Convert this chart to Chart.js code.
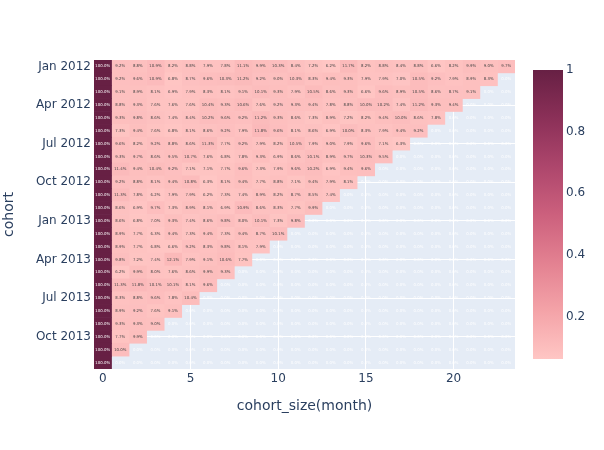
<!DOCTYPE html>
<html>
<head>
<meta charset="utf-8">
<script src="https://cdn.jsdelivr.net/npm/chart.js@4.4.0/dist/chart.umd.min.js"></script>
<style>
  html, body { margin: 0; padding: 0; background: #fff; }
</style>
</head>
<body>
<canvas id="chart" width="604" height="450"></canvas>
<script>
// ── Data ──────────────────────────────────────────────────────────────────
const cohorts = [
  'Jan 2012', 'Feb 2012', 'Mar 2012', 'Apr 2012', 'May 2012', 'Jun 2012',
  'Jul 2012', 'Aug 2012', 'Sep 2012', 'Oct 2012', 'Nov 2012', 'Dec 2012',
  'Jan 2013', 'Feb 2013', 'Mar 2013', 'Apr 2013', 'May 2013', 'Jun 2013',
  'Jul 2013', 'Aug 2013', 'Sep 2013', 'Oct 2013', 'Nov 2013', 'Dec 2013',
];

const monthIdx = [0, 1, 2, 3, 4, 5, 6, 7, 8, 9, 10, 11, 12, 13, 14, 15, 16, 17, 18, 19, 20, 21, 22, 23];

const xTicks = [0, 5, 10, 15, 20];

// retention (%) per cohort, column = months since first purchase
const retention = [
  [100, 9.2, 8.8, 10.9, 8.2, 8.8, 7.9, 7.8, 11.1, 9.9, 10.3, 8.4, 7.2, 6.2, 11.7, 8.2, 8.8, 8.4, 8.8, 6.6, 8.2, 9.9, 9.0, 9.7],
  [100, 9.2, 9.6, 10.9, 6.8, 8.7, 9.6, 10.3, 11.2, 9.2, 9.0, 10.3, 8.3, 9.4, 9.3, 7.9, 7.9, 7.0, 10.5, 9.2, 7.9, 8.9, 8.3],
  [100, 9.1, 8.9, 8.1, 6.9, 7.9, 8.3, 8.1, 9.1, 10.1, 9.3, 7.9, 10.5, 8.6, 9.3, 6.6, 9.6, 8.9, 10.5, 8.6, 8.7, 9.1],
  [100, 8.8, 9.3, 7.6, 7.6, 7.6, 10.4, 9.3, 10.6, 7.6, 9.2, 9.3, 9.4, 7.8, 8.8, 10.0, 10.2, 7.4, 11.2, 9.3, 9.4],
  [100, 9.3, 9.8, 8.6, 7.4, 8.4, 10.2, 9.6, 9.2, 11.2, 9.3, 8.6, 7.3, 8.9, 7.2, 8.2, 9.4, 10.0, 8.6, 7.8],
  [100, 7.3, 9.4, 7.6, 6.8, 8.1, 8.6, 9.2, 7.9, 11.8, 9.6, 8.1, 8.6, 6.9, 10.0, 8.3, 7.9, 9.4, 9.2],
  [100, 9.6, 8.2, 9.2, 8.8, 8.6, 11.3, 7.7, 9.2, 7.9, 8.2, 10.5, 7.9, 9.0, 7.9, 9.6, 7.1, 6.3],
  [100, 9.3, 9.7, 8.6, 9.5, 10.7, 7.6, 6.8, 7.8, 9.3, 6.9, 8.6, 10.1, 8.9, 9.7, 10.3, 9.5],
  [100, 11.4, 9.4, 10.4, 9.2, 7.1, 7.1, 7.7, 9.6, 7.3, 7.9, 9.6, 10.2, 6.9, 9.4, 9.6],
  [100, 9.2, 8.8, 8.1, 9.4, 10.8, 6.3, 8.1, 9.4, 7.7, 8.8, 7.1, 9.4, 7.9, 8.1],
  [100, 11.3, 7.8, 6.2, 7.9, 7.9, 6.2, 7.3, 7.4, 8.9, 8.2, 8.7, 8.5, 7.4],
  [100, 8.6, 6.9, 9.7, 7.3, 8.9, 8.1, 6.9, 10.9, 8.6, 8.3, 7.7, 9.9],
  [100, 8.6, 6.8, 7.0, 9.3, 7.4, 8.6, 9.8, 8.0, 10.1, 7.3, 9.8],
  [100, 8.9, 7.7, 6.3, 9.4, 7.3, 9.4, 7.3, 9.4, 8.7, 10.1],
  [100, 8.9, 7.7, 6.8, 6.6, 9.2, 8.3, 9.8, 8.1, 7.9],
  [100, 9.8, 7.2, 7.4, 12.1, 7.9, 9.1, 10.6, 7.7],
  [100, 6.2, 9.9, 8.0, 7.6, 8.6, 9.9, 9.3],
  [100, 11.3, 11.8, 10.1, 10.1, 8.1, 9.6],
  [100, 8.3, 8.8, 9.6, 7.8, 10.4],
  [100, 8.9, 9.2, 7.6, 9.1],
  [100, 9.3, 9.3, 9.0],
  [100, 7.7, 9.9],
  [100, 10.0],
  [100],
];

const cbTicks = [0.2, 0.4, 0.6, 0.8, 1];

// ── Style ─────────────────────────────────────────────────────────────────
const FONT  = "'DejaVu Sans', Verdana, sans-serif";
const INK   = '#2a3f5f';
const PLOT_BG = '#e5ecf6';
const BURG  = ['#ffc6c4', '#f4a3a8', '#e38191', '#cc607d', '#ad466c', '#8b3058', '#672044'];

const allVals = retention.flat().map(v => v / 100);
const zmin = Math.min(...allVals);
const zmax = Math.max(...allVals);

function hexRgb(h) {
  return [1, 3, 5].map(i => parseInt(h.slice(i, i + 2), 16));
}

function burgColor(v) {
  const t = Math.min(1, Math.max(0, (v - zmin) / (zmax - zmin))) * (BURG.length - 1);
  const i = Math.min(BURG.length - 2, Math.floor(t));
  const f = t - i;
  const a = hexRgb(BURG[i]), b = hexRgb(BURG[i + 1]);
  const c = a.map((x, k) => Math.round(x + (b[k] - x) * f));
  return `rgb(${c[0]},${c[1]},${c[2]})`;
}

// one floating-bar dataset per month column
const datasets = monthIdx.map(j => ({
  label: String(j),
  data: retention.map(row => row[j] !== undefined ? [j - 0.5, j + 0.5] : null),
  backgroundColor: retention.map(row => row[j] !== undefined ? burgColor(row[j] / 100) : 'transparent'),
  borderWidth: 0,
  grouped: false,
  barPercentage: 1,
  categoryPercentage: 1,
}));

// ── Plugins ───────────────────────────────────────────────────────────────
const plotBg = {
  id: 'plotBg',
  beforeDraw(chart) {
    const { ctx, chartArea: { left, top, width, height } } = chart;
    ctx.save();
    ctx.fillStyle = PLOT_BG;
    ctx.fillRect(left, top, width, height);
    ctx.restore();
  },
};

const cellText = {
  id: 'cellText',
  afterDatasetsDraw(chart) {
    const { ctx, scales: { x, y } } = chart;
    ctx.save();
    ctx.font = `3.9px ${FONT}`;
    ctx.textAlign = 'center';
    ctx.textBaseline = 'middle';
    retention.forEach((row, i) => {
      const py = y.getPixelForValue(i);
      monthIdx.forEach(j => {
        const v = row[j];
        const px = x.getPixelForValue(j);
        if (v === undefined) {
          ctx.fillStyle = 'rgba(255,255,255,0.95)';
          ctx.fillText('0.0%', px, py);
        } else {
          ctx.fillStyle = v / 100 > 0.5 ? '#ffffff' : '#444444';
          ctx.fillText(v.toFixed(1) + '%', px, py);
        }
      });
    });
    ctx.restore();
  },
};

const colorBar = {
  id: 'colorBar',
  afterDraw(chart) {
    const { ctx, chartArea } = chart;
    const left = chartArea.right + 18, w = 30;
    const top = chartArea.top + 10, bottom = chartArea.bottom - 10;
    const yOf = v => top + (zmax - v) / (zmax - zmin) * (bottom - top);

    ctx.save();
    const g = ctx.createLinearGradient(0, bottom, 0, top);
    BURG.forEach((c, i) => g.addColorStop(i / (BURG.length - 1), c));
    ctx.fillStyle = g;
    ctx.fillRect(left, top, w, bottom - top);

    ctx.fillStyle = INK;
    ctx.font = `12px ${FONT}`;
    ctx.textAlign = 'left';
    ctx.textBaseline = 'middle';
    cbTicks.forEach(v => ctx.fillText(String(v), left + w + 3, yOf(v)));
    ctx.restore();
  },
};

// ── Chart ─────────────────────────────────────────────────────────────────
new Chart(document.getElementById('chart').getContext('2d'), {
  type: 'bar',
  data: { labels: cohorts, datasets },
  options: {
    indexAxis: 'y',
    responsive: false,
    animation: false,
    layout: { padding: { top: 60, right: 89, left: 0, bottom: 0 } },
    plugins: {
      legend: { display: false },
      tooltip: { enabled: false },
    },
    scales: {
      x: {
        type: 'linear',
        min: -0.5,
        max: 23.5,
        afterFit: s => { s.height = 81; },
        afterBuildTicks: s => { s.ticks = xTicks.map(v => ({ value: v })); },
        grid: { color: '#ffffff', lineWidth: 1, drawTicks: false },
        border: { display: false },
        ticks: { color: INK, font: { family: FONT, size: 12 }, padding: 3, maxRotation: 0 },
        title: {
          display: true,
          text: 'cohort_size(month)',
          color: INK,
          font: { family: FONT, size: 14 },
          padding: { top: 0, bottom: 35 },
        },
      },
      y: {
        type: 'category',
        offset: true,
        afterFit: s => { s.width = 94; },
        grid: { color: '#ffffff', lineWidth: 1, drawTicks: false, offset: false },
        border: { display: false },
        ticks: {
          autoSkip: false,
          color: INK,
          font: { family: FONT, size: 12 },
          padding: 3,
          callback: (v, i) => (i % 3 === 0 ? cohorts[i] : null),
        },
        title: {
          display: true,
          text: 'cohort',
          color: INK,
          font: { family: FONT, size: 14 },
          padding: { top: 1, bottom: 0 },
        },
      },
    },
  },
  plugins: [plotBg, cellText, colorBar],
});
</script>
</body>
</html>
